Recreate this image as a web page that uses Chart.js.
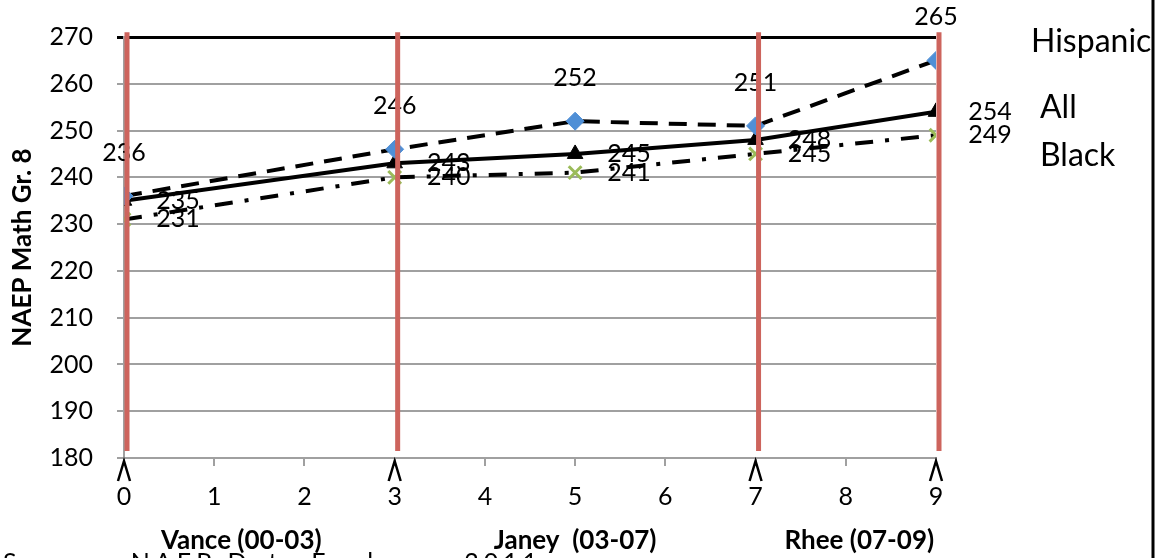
<!DOCTYPE html>
<html>
<head>
<meta charset="utf-8">
<script src="https://cdn.jsdelivr.net/npm/chart.js@4.4.0/dist/chart.umd.min.js"></script>
<style>
    html, body { margin: 0; padding: 0; background: #fff; overflow: hidden; }
    canvas { display: block; }
</style>
</head>
<body>
<canvas id="myChart" width="1159" height="558"></canvas>
<script>
// years since 2000 (NAEP test points)
const years = [0, 3, 5, 7, 9];
const hispanic = [236, 246, 252, 251, 265];
const all = [235, 243, 245, 248, 254];
const black = [231, 240, 241, 245, 249];
const seriesNames = ['Hispanic', 'All', 'Black'];

// chancellor boundaries and labels
const chancellorMarks = [0, 3, 7, 9];
const chancellors = ['Vance (00-03)', 'Janey  (03-07)', 'Rhee (07-09)'];
const chancellorCenters = [1.3, 5.0, 8.15];

const sourceNote = 'Source: NAEP Data Explorer, 2011';

const FONT = 'Lato, "Open Sans", sans-serif';

function toPoints(values) {
    return years.map((x, i) => ({ x: x, y: values[i] }));
}

// where each series' value labels sit, relative to the point
const labelOffsets = [
    { dx: 0, dy: -43 },
    { dx: 54, dy: 0 },
    { dx: 54, dy: 0 }
];

const extras = {
    id: 'extras',
    afterDatasetsDraw(chart) {
        const ctx = chart.ctx;
        const xs = chart.scales.x;
        const ys = chart.scales.y;

        // value labels
        ctx.save();
        ctx.font = '25px ' + FONT;
        ctx.fillStyle = '#000';
        ctx.textAlign = 'center';
        ctx.textBaseline = 'middle';
        chart.data.datasets.forEach((ds, di) => {
            ds.data.forEach(p => {
                ctx.fillText(String(p.y), xs.getPixelForValue(p.x) + labelOffsets[di].dx,
                    ys.getPixelForValue(p.y) + labelOffsets[di].dy);
            });
        });
        ctx.restore();

        // red chancellor lines
        ctx.save();
        ctx.strokeStyle = '#cd645d';
        ctx.lineWidth = 5;
        chancellorMarks.forEach(v => {
            const x = xs.getPixelForValue(v) + 3;
            ctx.beginPath();
            ctx.moveTo(x, ys.getPixelForValue(271));
            ctx.lineTo(x, ys.getPixelForValue(181.5));
            ctx.stroke();
        });
        ctx.restore();
    },
    afterDraw(chart) {
        const ctx = chart.ctx;
        const xs = chart.scales.x;
        const bottom = chart.chartArea.bottom;

        // little carets under the axis
        ctx.save();
        ctx.strokeStyle = '#000';
        ctx.lineWidth = 2.5;
        chancellorMarks.forEach(v => {
            const x = xs.getPixelForValue(v);
            ctx.beginPath();
            ctx.moveTo(x - 6, bottom + 23);
            ctx.lineTo(x, bottom + 3);
            ctx.lineTo(x + 6, bottom + 23);
            ctx.stroke();
        });
        ctx.restore();

        // chancellor names
        ctx.save();
        ctx.font = 'bold 26px ' + FONT;
        ctx.fillStyle = '#000';
        ctx.textAlign = 'center';
        ctx.textBaseline = 'middle';
        chancellors.forEach((name, i) => {
            ctx.fillText(name, xs.getPixelForValue(chancellorCenters[i]), bottom + 83);
        });
        ctx.restore();

        // source line, mostly cut off by the page bottom
        ctx.save();
        ctx.font = '25px ' + FONT;
        ctx.fillStyle = '#000';
        ctx.textAlign = 'left';
        ctx.textBaseline = 'top';
        ctx.letterSpacing = '5px';
        ctx.fillText(sourceNote, 3, bottom + 92);
        ctx.restore();

        // series names on the right
        ctx.save();
        ctx.font = '32px ' + FONT;
        ctx.fillStyle = '#000';
        ctx.textAlign = 'left';
        ctx.textBaseline = 'middle';
        ctx.fillText(seriesNames[0], 1031, 42);
        ctx.fillText(seriesNames[1], 1040, 108);
        ctx.fillText(seriesNames[2], 1040, 156);
        ctx.restore();

        // frame line at the right
        ctx.save();
        ctx.strokeStyle = '#000';
        ctx.lineWidth = 3;
        ctx.beginPath();
        ctx.moveTo(1153, 0);
        ctx.lineTo(1153, chart.height);
        ctx.stroke();
        ctx.restore();
    }
};

const ctx = document.getElementById('myChart');

new Chart(ctx, {
    type: 'line',
    data: {
        datasets: [{
            label: seriesNames[0],
            data: toPoints(hispanic),
            borderColor: '#000',
            borderWidth: 4,
            borderDash: [18, 11],
            pointStyle: 'rectRot',
            pointRadius: 9,
            pointBackgroundColor: '#4f8fd6',
            pointBorderColor: '#4f8fd6',
            pointBorderWidth: 1
        }, {
            label: seriesNames[1],
            data: toPoints(all),
            borderColor: '#000',
            borderWidth: 4,
            pointStyle: 'triangle',
            pointRadius: 9,
            pointBackgroundColor: '#000',
            pointBorderColor: '#000',
            pointBorderWidth: 1
        }, {
            label: seriesNames[2],
            data: toPoints(black),
            borderColor: '#000',
            borderWidth: 4,
            borderDash: [18, 12, 4, 12],
            pointStyle: 'crossRot',
            pointRadius: 9,
            pointBackgroundColor: '#9bbb59',
            pointBorderColor: '#9bbb59',
            pointBorderWidth: 3
        }]
    },
    options: {
        responsive: false,
        animation: false,
        layout: {
            padding: { left: 0, right: 223, top: 37, bottom: 0 }
        },
        plugins: {
            legend: { display: false },
            tooltip: { enabled: false }
        },
        scales: {
            x: {
                type: 'linear',
                min: 0,
                max: 9,
                afterFit(scale) { scale.height = 100; },
                ticks: {
                    stepSize: 1,
                    color: '#000',
                    padding: 16,
                    font: { family: FONT, size: 25 }
                },
                grid: {
                    drawOnChartArea: false,
                    tickLength: 8,
                    color: '#a0a0a0',
                    lineWidth: 2
                },
                border: { color: '#a0a0a0', width: 2 }
            },
            y: {
                min: 180,
                max: 270,
                afterFit(scale) {
                    scale.width = 124;
                    scale.paddingTop = 0;
                    scale.paddingBottom = 0;
                },
                ticks: {
                    stepSize: 10,
                    color: '#000',
                    padding: 24,
                    font: { family: FONT, size: 25 }
                },
                grid: {
                    tickLength: 7,
                    color: c => c.tick && c.tick.value === 270 ? '#000' : '#a0a0a0',
                    lineWidth: c => c.tick && c.tick.value === 270 ? 3 : 2
                },
                border: { color: '#a0a0a0', width: 2 },
                title: {
                    display: true,
                    text: 'NAEP Math Gr. 8',
                    color: '#000',
                    padding: { top: 7, bottom: 0 },
                    font: { family: FONT, size: 26, weight: 'bold' }
                }
            }
        }
    },
    plugins: [extras]
});
</script>
</body>
</html>
